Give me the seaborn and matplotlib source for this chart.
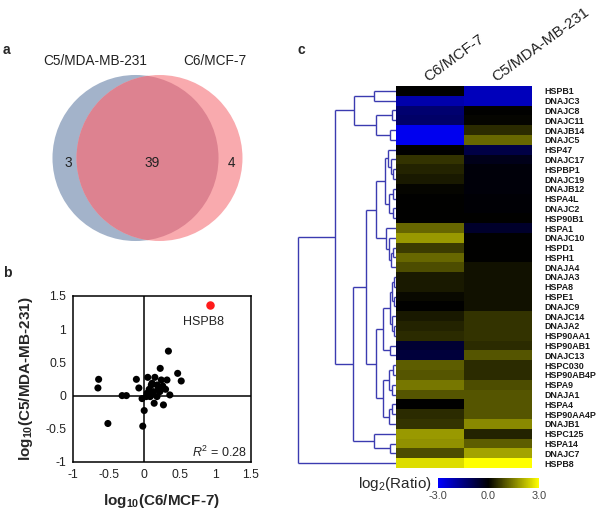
import numpy as np
import pandas as pd
import matplotlib
matplotlib.use("Agg")
import matplotlib.pyplot as plt
from matplotlib.patches import Circle
from matplotlib.colors import LinearSegmentedColormap
import seaborn as sns

# ── data ──────────────────────────────────────────────────
SET_NAMES = ["C5/MDA-MB-231", "C6/MCF-7"]
VENN_COUNTS = [3, 39, 4]          # only C5, both, only C6

SCATTER_X = [-0.64, -0.65, -0.51, -0.31, -0.25, -0.11, -0.075, -0.02, 0.0, -0.03,
             0.05, 0.15, 0.10, 0.07, 0.04, 0.085, 0.14, 0.18, 0.24, 0.225,
             0.26, 0.27, 0.30, 0.32, 0.34, 0.36, 0.47, 0.52, 0.20, 0.13,
             0.11, 0.18, 0.03, 0.06, 0.22, 0.12, 0.20, 0.09]
SCATTER_Y = [0.245, 0.115, -0.42, 0.0, 0.0, 0.245, 0.115, -0.46, -0.225, -0.045,
             0.275, 0.275, 0.16, 0.095, 0.035, -0.015, -0.115, -0.015, 0.235, 0.41,
             0.145, -0.14, 0.095, 0.235, 0.67, 0.01, 0.335, 0.22, 0.085, 0.06,
             0.185, 0.16, -0.015, 0.0, 0.06, 0.02, 0.12, 0.05]
HIGHLIGHT = ("HSPB8", 0.93, 1.36)
R2 = 0.28

GENES = ["HSPB1", "DNAJC3", "DNAJC8", "DNAJC11", "DNAJB14", "DNAJC5", "HSP47",
         "DNAJC17", "HSPBP1", "DNAJC19", "DNAJB12", "HSPA4L", "DNAJC2", "HSP90B1",
         "HSPA1", "DNAJC10", "HSPD1", "HSPH1", "DNAJA4", "DNAJA3", "HSPA8", "HSPE1",
         "DNAJC9", "DNAJC14", "DNAJA2", "HSP90AA1", "HSP90AB1", "DNAJC13", "HSPC030",
         "HSP90AB4P", "HSPA9", "DNAJA1", "HSPA4", "HSP90AA4P", "DNAJB1", "HSPC125",
         "HSPA14", "DNAJC7", "HSPB8"]
C6_LOG2 = [0.0, -2.0, -1.3, -1.2, -2.8, -2.8, 0.0, 0.6, 0.4, 0.3, 0.05, 0.0, 0.0, 0.0,
           1.2, 1.8, 0.7, 1.2, 0.9, 0.3, 0.3, 0.1, 0.0, 0.3, 0.4, 0.5, -0.6, -0.7, 1.1,
           1.0, 1.4, 1.0, 0.0, 0.5, 0.6, 1.8, 1.7, 0.9, 2.6]
C5_LOG2 = [-2.2, -2.2, 0.0, 0.05, 0.5, 1.2, -0.8, -0.3, -0.1, -0.1, -0.1, -0.05, -0.05, 0.0,
           -0.5, 0.0, 0.0, 0.0, 0.2, 0.2, 0.2, 0.2, 0.2, 0.6, 0.6, 0.6, 0.5, 1.0, 0.5,
           0.5, 0.9, 1.0, 1.0, 1.0, 1.6, 0.4, 1.1, 1.9, 3.0]

# hierarchical clustering tree: [left, right, merge distance]
TREE = [
    [
        [["HSPB1", "DNAJC3", 0.22],
         [["DNAJC8", "DNAJC11", 0.04], ["DNAJB14", "DNAJC5", 0.06], 0.20], 0.43],
        [
            [
                [
                    [["HSP47", ["DNAJC17", ["HSPBP1", "DNAJC19", 0.03], 0.05], 0.08],
                     [["DNAJB12", "HSPA4L", 0.03], ["DNAJC2", "HSP90B1", 0.03], 0.07], 0.11],
                    ["HSPA1", ["DNAJC10", [["HSPD1", "HSPH1", 0.03], "DNAJA4", 0.05], 0.07], 0.10],
                    0.20],
                [
                    [[[["DNAJA3", "HSPA8", 0.02], ["HSPE1", "DNAJC9", 0.02], 0.04],
                      ["DNAJC14", ["DNAJA2", "HSP90AA1", 0.02], 0.04], 0.06],
                     ["HSP90AB1", "DNAJC13", 0.06], 0.13],
                    [[["HSPC030", "HSP90AB4P", 0.03], ["HSPA9", "DNAJA1", 0.04], 0.07],
                     [["HSPA4", "HSP90AA4P", 0.04], "DNAJB1", 0.07], 0.13],
                    0.20],
                0.31],
            ["HSPC125", ["HSPA14", "DNAJC7", 0.06], 0.22],
            0.44],
        0.62],
    "HSPB8",
    1.00]

DENDRO_COLOR = "#3b3bb0"

sns.set_theme(style="white")
plt.rcParams["font.family"] = ["Liberation Sans", "DejaVu Sans"]
plt.rcParams["mathtext.fontset"] = "custom"
plt.rcParams["mathtext.rm"] = "Liberation Sans"
plt.rcParams["mathtext.it"] = "Liberation Sans:italic"
plt.rcParams["mathtext.bf"] = "Liberation Sans:bold"

W, H = 600, 513
fig = plt.figure(figsize=(W / 100, H / 100), dpi=100)


def px_rect(x0, y0, x1, y1):
    return [x0 / W, 1 - y1 / H, (x1 - x0) / W, (y1 - y0) / H]


# ── a. Venn diagram ───────────────────────────────────────
ax_v = fig.add_axes(px_rect(0, 40, 280, 250))
ax_v.set_xlim(0, 280)
ax_v.set_ylim(250, 40)
ax_v.axis("off")
size_l = VENN_COUNTS[0] + VENN_COUNTS[1]
size_r = VENN_COUNTS[1] + VENN_COUNTS[2]
base_r = 82.5
r_l = base_r * np.sqrt(size_l / ((size_l + size_r) / 2))
r_r = base_r * np.sqrt(size_r / ((size_l + size_r) / 2))
cy = 158
left = Circle((135.5, cy), r_l + 1, fc="#a3b3ca", ec="none")
right = Circle((159.5, cy), r_r, fc="#f9aaae", ec="none")
ax_v.add_patch(left)
ax_v.add_patch(right)
overlap = Circle((135.5, cy), r_l + 1, fc="#dd8290", ec="none")
ax_v.add_patch(overlap)
overlap.set_clip_path(right)
ax_v.text(95, 61, SET_NAMES[0], ha="center", va="center", fontsize=9.8, color="#222")
ax_v.text(215, 61, SET_NAMES[1], ha="center", va="center", fontsize=9.8, color="#222")
for xx, n in zip([68, 152, 231], VENN_COUNTS):
    ax_v.text(xx, 163, str(n), ha="center", va="center", fontsize=9.8, color="#222")

# ── b. scatter ────────────────────────────────────────────
ax_s = fig.add_axes(px_rect(73, 296, 251, 462))
sns.scatterplot(x=SCATTER_X, y=SCATTER_Y, ax=ax_s, color="black", s=26,
                edgecolor="none", zorder=3)
ax_s.scatter([HIGHLIGHT[1]], [HIGHLIGHT[2]], color="#ff1a1a", s=26, zorder=3)
ax_s.text(HIGHLIGHT[1] - 0.39, HIGHLIGHT[2] - 0.25, HIGHLIGHT[0], fontsize=9,
          va="center", ha="left", color="#222")
ax_s.text(1.44, -0.86, f"$R^2$ = {R2:.2f}", fontsize=9, ha="right", va="center",
          color="#222")
ax_s.axhline(0, color="black", lw=1.1, zorder=2)
ax_s.axvline(0, color="black", lw=1.1, zorder=2)
ax_s.set_xlim(-1, 1.5)
ax_s.set_ylim(-1, 1.5)
ax_s.set_xticks([-1, -0.5, 0, 0.5, 1, 1.5])
ax_s.set_yticks([-1, -0.5, 0, 0.5, 1, 1.5])
ax_s.set_xticklabels(["-1", "-0.5", "0", "0.5", "1", "1.5"])
ax_s.set_yticklabels(["-1", "-0.5", "0", "0.5", "1", "1.5"])
ax_s.tick_params(length=0, labelsize=8.8, pad=5, colors="#222")
for sp in ax_s.spines.values():
    sp.set_color("black")
    sp.set_linewidth(1.1)
ax_s.set_xlabel(r"log$_{\mathbf{10}}$(C6/MCF-7)", fontsize=11, fontweight="bold", labelpad=8)
ax_s.set_ylabel(r"log$_{\mathbf{10}}$(C5/MDA-MB-231)", fontsize=11, fontweight="bold", labelpad=7)

# ── c. clustered heatmap ──────────────────────────────────
row_of = {g: i + 0.5 for i, g in enumerate(GENES)}
ax_d = fig.add_axes(px_rect(298, 86, 396, 468))
ax_d.set_xlim(1.0, 0.0)
ax_d.set_ylim(len(GENES), 0)
ax_d.axis("off")


def draw(node):
    if isinstance(node, str):
        return row_of[node], 0.0
    yl, hl = draw(node[0])
    yr, hr = draw(node[1])
    h = node[2]
    kw = dict(color=DENDRO_COLOR, lw=1.0, clip_on=False, solid_capstyle="butt")
    ax_d.plot([hl, h], [yl, yl], **kw)
    ax_d.plot([hr, h], [yr, yr], **kw)
    ax_d.plot([h, h], [yl, yr], **kw)
    return (yl + yr) / 2, h


draw(TREE)

ax_h = fig.add_axes(px_rect(396, 86, 532, 468))
ax_cb = fig.add_axes(px_rect(438, 478, 539, 488))
cmap = LinearSegmentedColormap.from_list("by", ["#0000ff", "#000000", "#ffff00"])
df = pd.DataFrame({"C6/MCF-7": C6_LOG2, "C5/MDA-MB-231": C5_LOG2}, index=GENES)
sns.heatmap(df, ax=ax_h, cmap=cmap, vmin=-3, vmax=3, cbar_ax=ax_cb,
            cbar_kws={"orientation": "horizontal", "ticks": [-3, 0, 3]},
            yticklabels=True)
ax_h.yaxis.tick_right()
ax_h.set_yticklabels(GENES, rotation=0, fontsize=6.4, fontweight="bold", color="#1a1a1a")
ax_h.xaxis.tick_top()
ax_h.set_xticklabels(df.columns, rotation=36, ha="left", rotation_mode="anchor",
                     fontsize=11, color="#222")
ax_h.tick_params(axis="y", length=0, pad=9)
ax_h.tick_params(axis="x", length=0, pad=1)
ax_h.set_ylabel("")
ax_h.collections[0].colorbar.outline.set_visible(False)
ax_cb.set_xticklabels(["-3.0", "0.0", "3.0"])
ax_cb.tick_params(length=0, labelsize=7.8, colors="#444", pad=2)
fig.text(432 / W, 1 - 484 / H, r"log$_2$(Ratio)", ha="right", va="center", fontsize=11)

# panel letters
fig.text(3 / W, 1 - 50 / H, "a", fontsize=10, fontweight="bold", va="center")
fig.text(3 / W, 1 - 273 / H, "b", fontsize=10, fontweight="bold", va="center")
fig.text(298 / W, 1 - 50 / H, "c", fontsize=10, fontweight="bold", va="center")

fig.savefig("out.png", dpi=100)
